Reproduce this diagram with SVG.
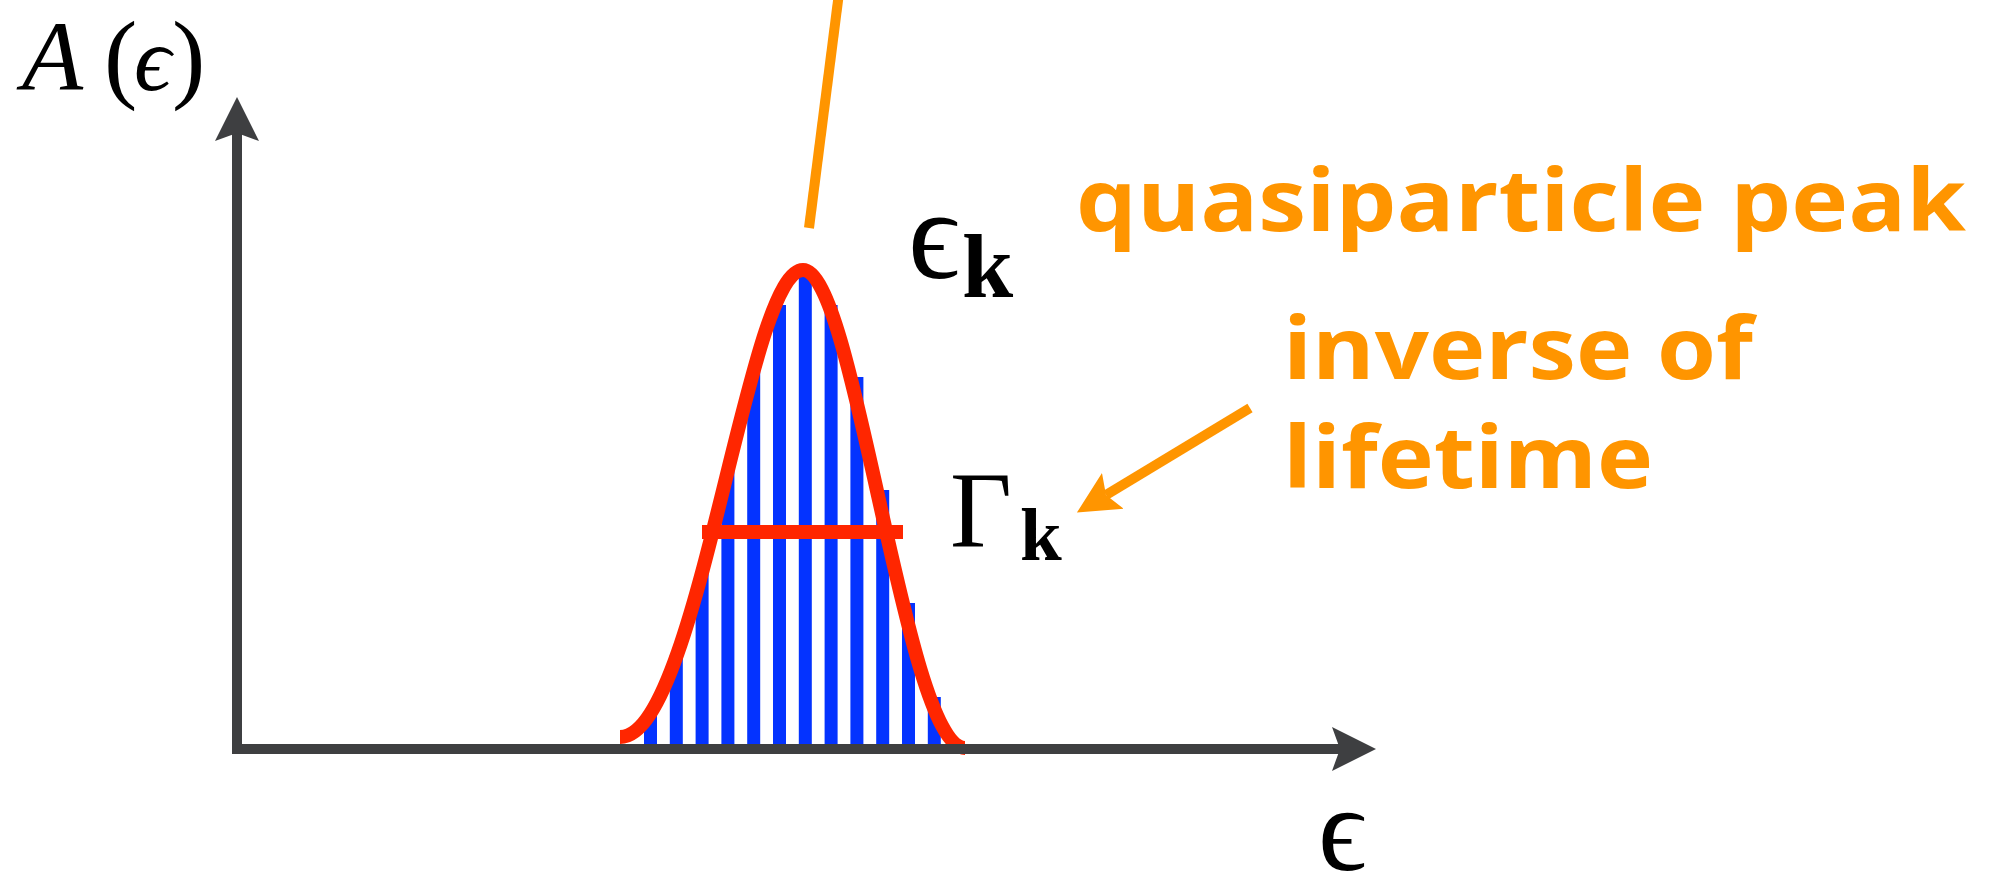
<svg xmlns="http://www.w3.org/2000/svg" width="1990" height="876" viewBox="0 0 1990 876">
<style>
.ann{font-family:"Open Sans","Liberation Sans",sans-serif;font-weight:bold;font-size:86px;fill:#FF9500}
.math{font-family:"Liberation Serif","DejaVu Serif",serif;fill:#000}
.it{font-style:italic}
.bf{font-weight:bold}
.bar{fill:#0433FF}
.axis{fill:none;stroke:#3E3F41;stroke-width:10;stroke-linejoin:miter}
.orange{fill:none;stroke:#FF9500;stroke-width:10}
.red{fill:none;stroke:#FF2600;stroke-width:14}
</style>
<defs>
<marker id="axhead" markerUnits="userSpaceOnUse" markerWidth="50" markerHeight="50" viewBox="0 -25 50 50" refX="8" refY="0" orient="auto-start-reverse">
<path d="M44,0 L0,-22 L8,0 L0,22 Z" fill="#3E3F41"/>
</marker>
<marker id="orhead" markerUnits="userSpaceOnUse" markerWidth="50" markerHeight="50" viewBox="0 -25 50 50" refX="8" refY="0" orient="auto">
<path d="M42,0 L0,-21 L8,0 L0,21 Z" fill="#FF9500"/>
</marker>
</defs>
<rect width="1990" height="876" fill="#fff"/>
<g id="bars">
<rect class="bar" x="644" y="715" width="13" height="34"/>
<rect class="bar" x="669.8" y="655" width="13" height="94"/>
<rect class="bar" x="695.6" y="574" width="13" height="175"/>
<rect class="bar" x="721.4" y="470" width="13" height="279"/>
<rect class="bar" x="747.2" y="370" width="13" height="379"/>
<rect class="bar" x="773" y="305" width="13" height="444"/>
<rect class="bar" x="798.8" y="277" width="13" height="472"/>
<rect class="bar" x="824.6" y="305" width="13" height="444"/>
<rect class="bar" x="850.4" y="377" width="13" height="372"/>
<rect class="bar" x="876.2" y="490" width="13" height="259"/>
<rect class="bar" x="902" y="603" width="13" height="146"/>
<rect class="bar" x="927.8" y="697" width="13" height="52"/>
</g>
<g id="curve">
<path class="red" d="M620,737 C698,737 747,270 803,270 C855,270 905,748 965,748"/>
<line id="halfwidth" x1="702" y1="532" x2="903" y2="532" stroke="#FF2600" stroke-width="14"/>
</g>
<g id="axes">
<path class="axis" d="M237,133 L237,749 L1340,749" marker-start="url(#axhead)" marker-end="url(#axhead)"/>
</g>
<g id="connectors">
<line class="orange" x1="840" y1="-15" x2="809" y2="228"/>
<line class="orange" x1="1250" y1="408" x2="1106" y2="495" marker-end="url(#orhead)"/>
</g>
<g id="label-A">
<text class="math" y="90" font-size="100"><tspan class="it" x="22" font-size="100">A</tspan><tspan x="104">(</tspan><tspan class="it" x="134" font-size="92">ϵ</tspan><tspan x="172">)</tspan></text>
</g>
<g id="label-ek">
<text class="math" x="908" y="278" font-size="128">ϵ</text>
<text class="math bf" x="962" y="297" font-size="92">k</text>
</g>
<g id="label-gk">
<text class="math" x="950" y="546" font-size="107">Γ</text>
<text class="math bf" x="1020" y="560" font-size="75">k</text>
</g>
<g id="label-eps">
<text class="math" x="1318" y="870" font-size="120">ϵ</text>
</g>
<g id="label-qp">
<text class="ann" x="1076" y="231" textLength="890" lengthAdjust="spacingAndGlyphs">quasiparticle peak</text>
</g>
<g id="label-inv">
<text class="ann" x="1283" y="379" textLength="470" lengthAdjust="spacingAndGlyphs">inverse of</text>
<text class="ann" x="1283" y="488" textLength="370" lengthAdjust="spacingAndGlyphs">lifetime</text>
</g>
</svg>
